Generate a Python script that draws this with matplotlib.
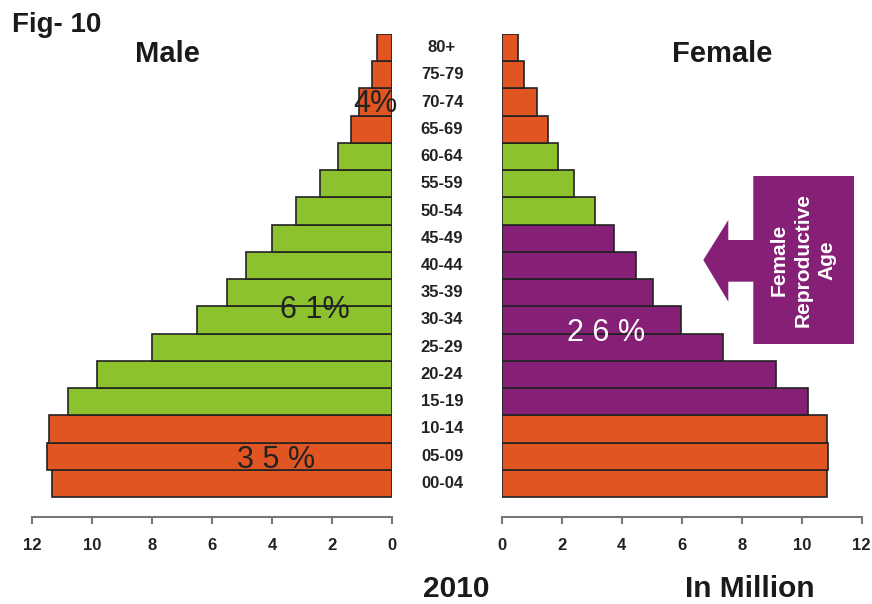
import matplotlib
matplotlib.use('Agg')
import matplotlib.pyplot as plt
from matplotlib.patches import Polygon
import numpy as np

plt.rcParams['font.family'] = ['Liberation Sans', 'DejaVu Sans']

# ── Data (millions, bottom to top) ────────────────────────────────
AGES = ['00-04', '05-09', '10-14', '15-19', '20-24', '25-29', '30-34', '35-39',
        '40-44', '45-49', '50-54', '55-59', '60-64', '65-69', '70-74', '75-79', '80+']
MALE = [11.32, 11.51, 11.42, 10.81, 9.83, 8.0, 6.51, 5.49,
        4.88, 3.99, 3.2, 2.4, 1.79, 1.38, 1.1, 0.67, 0.49]
FEMALE = [10.83, 10.88, 10.83, 10.22, 9.14, 7.38, 5.98, 5.03,
          4.49, 3.73, 3.12, 2.42, 1.86, 1.53, 1.17, 0.75, 0.55]
X_TICKS = [0, 2, 4, 6, 8, 10, 12]

ORANGE = '#E05521'
GREEN  = '#8CC22E'
PURPLE = '#862076'

male_colors   = [ORANGE]*3 + [GREEN]*10 + [ORANGE]*4
female_colors = [ORANGE]*3 + [PURPLE]*7 + [GREEN]*3 + [ORANGE]*4

W, H = 872, 604
fig = plt.figure(figsize=(W/100, H/100), dpi=100)
fig.patch.set_facecolor('white')

def fx(x): return x / W
def fy(y): return 1 - y / H

ax_bot, ax_top = 517, 34
ax_m = fig.add_axes([fx(32), fy(ax_bot), 360/W, (ax_bot-ax_top)/H])
ax_f = fig.add_axes([fx(501.7), fy(ax_bot), 360/W, (ax_bot-ax_top)/H])

y = np.arange(len(AGES))
bar_px = (497 - 34) / len(AGES)
ylim_bottom = -0.5 - (ax_bot - 497) / bar_px

for ax, vals, cols in [(ax_m, MALE, male_colors), (ax_f, FEMALE, female_colors)]:
    ax.barh(y, vals, height=1.0, color=cols, edgecolor='#222222', linewidth=1.2)
    ax.set_ylim(ylim_bottom, len(AGES) - 0.5)
    ax.set_xlim(0, 12)
    ax.set_xticks(X_TICKS)
    ax.set_xticklabels([str(t) for t in X_TICKS], fontsize=12, fontweight='bold', color='#222222')
    ax.set_yticks([])
    for s in ['left', 'right', 'top']:
        ax.spines[s].set_visible(False)
    ax.spines['bottom'].set_color('#777777')
    ax.spines['bottom'].set_linewidth(1.5)
    ax.tick_params(axis='x', length=5, width=1.5, color='#777777', pad=10)
    ax.set_facecolor('none')
ax_m.invert_xaxis()

# age labels between the two halves
for i, lab in enumerate(AGES):
    ax_f.text(-59.7/30, y[i], lab, ha='center', va='center', fontsize=12,
              fontweight='bold', color='#222222', clip_on=False)

# titles
fig.text(fx(12), fy(25), 'Fig- 10', ha='left', va='center', fontsize=20, fontweight='bold', color='#1a1a1a')
fig.text(fx(167.5), fy(54), 'Male', ha='center', va='center', fontsize=21, fontweight='bold', color='#1a1a1a')
fig.text(fx(722), fy(54), 'Female', ha='center', va='center', fontsize=21, fontweight='bold', color='#1a1a1a')
fig.text(fx(456), fy(589), '2010', ha='center', va='center', fontsize=21.5, fontweight='bold', color='#1a1a1a')
fig.text(fx(750), fy(589), 'In Million', ha='center', va='center', fontsize=21.5, fontweight='bold', color='#1a1a1a')

# share labels
fig.text(fx(375.5), fy(103.5), '4%', ha='center', va='center', fontsize=22, color='#222222')
fig.text(fx(315), fy(310), '6 1%', ha='center', va='center', fontsize=22, color='#222222')
fig.text(fx(276), fy(460), '3 5 %', ha='center', va='center', fontsize=22, color='#222222')
fig.text(fx(606), fy(333), '2 6 %', ha='center', va='center', fontsize=22, color='white')

# reproductive age arrow box
pts = [(753.3, 176), (854, 176), (854, 344), (753.3, 344), (753.3, 281.7),
       (728.3, 281.7), (728.3, 301.7), (703.3, 260), (728.3, 220),
       (728.3, 240), (753.3, 240)]
fig.patches.append(Polygon([(fx(a), fy(b)) for a, b in pts], closed=True,
                           transform=fig.transFigure, facecolor=PURPLE, edgecolor='none'))
fig.text(fx(803), fy(260), 'Female\nReproductive\nAge', rotation=90, ha='center', va='center',
         multialignment='center', fontsize=15, fontweight='bold', color='white', linespacing=1.3)

plt.savefig('out.png', dpi=100, facecolor='white')
plt.close()
